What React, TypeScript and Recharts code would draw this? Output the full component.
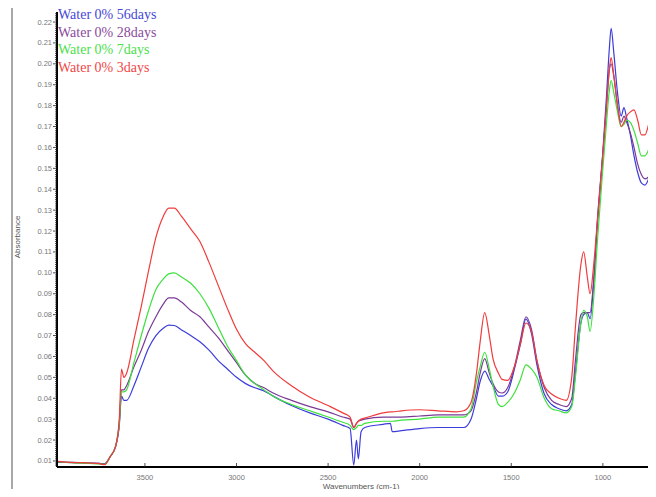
import React from 'react';
import { LineChart, Line, XAxis, YAxis, Legend } from 'recharts';

// wavenumbers (cm-1), high to low
const wavenumbers = [
  3978, 3900, 3800, 3750, 3720,
  3690, 3660, 3640, 3628, 3615, 3600,
  3560, 3520, 3480, 3440, 3400, 3370, 3340, 3300, 3250, 3200, 3150, 3100, 3050, 3000,
  2950, 2900, 2850, 2800, 2700, 2600, 2500,
  2420, 2380, 2360, 2345, 2335, 2320, 2300,
  2200, 2160, 2150, 2100, 2000, 1900, 1800,
  1760, 1720, 1690, 1670, 1645, 1620, 1600,
  1570, 1550, 1520, 1480, 1450, 1420, 1390, 1360,
  1320, 1280, 1240, 1200, 1170, 1150,
  1120, 1105, 1085, 1070, 1050, 1030,
  1000, 980, 965, 955, 940, 920,
  900, 885, 870, 850, 830, 810, 790, 770, 750, 730, 712,
];

const days56 = [
  0.0094, 0.0093, 0.009, 0.0088, 0.0086,
  0.012, 0.017, 0.027, 0.041, 0.039, 0.039,
  0.046, 0.055, 0.064, 0.07, 0.0735, 0.075, 0.0748, 0.0727, 0.07, 0.067, 0.063, 0.058, 0.054, 0.05,
  0.047, 0.045, 0.0435, 0.041, 0.0365, 0.033, 0.03,
  0.027, 0.0255, 0.008, 0.02, 0.011, 0.024, 0.026,
  0.0275, 0.028, 0.024, 0.0245, 0.0255, 0.026, 0.026,
  0.026, 0.03, 0.04, 0.048, 0.053, 0.049, 0.046,
  0.041, 0.041, 0.043, 0.055, 0.066, 0.078, 0.071, 0.056,
  0.042, 0.037, 0.035, 0.034, 0.037, 0.052,
  0.076, 0.08, 0.081, 0.078, 0.095, 0.125,
  0.158, 0.185, 0.207, 0.217, 0.205, 0.186,
  0.175, 0.179, 0.174, 0.166, 0.156, 0.148, 0.143, 0.142, 0.145, 0.15, 0.155,
];

const days28 = [
  0.0095, 0.0092, 0.0089, 0.0088, 0.0085,
  0.012, 0.017, 0.028, 0.044, 0.044, 0.046,
  0.055, 0.063, 0.072, 0.079, 0.085, 0.088, 0.088, 0.086, 0.082, 0.079, 0.074, 0.069, 0.063, 0.057,
  0.051, 0.047, 0.045, 0.0425, 0.039, 0.036, 0.0335,
  0.031, 0.03, 0.026, 0.028, 0.029, 0.0295, 0.03,
  0.031, 0.031, 0.031, 0.031, 0.0315, 0.032, 0.032,
  0.032, 0.034, 0.043, 0.052, 0.059, 0.052, 0.047,
  0.043, 0.0425, 0.045, 0.056, 0.068, 0.079, 0.073, 0.058,
  0.045, 0.039, 0.037, 0.036, 0.04, 0.058,
  0.08, 0.081, 0.081, 0.081, 0.097, 0.123,
  0.157, 0.18, 0.197, 0.2, 0.194, 0.18,
  0.172, 0.175, 0.172, 0.167, 0.16, 0.152, 0.147, 0.145, 0.146, 0.149, 0.152,
];

const days7 = [
  0.0097, 0.0092, 0.0088, 0.0086, 0.0084,
  0.012, 0.017, 0.028, 0.043, 0.043, 0.044,
  0.057, 0.07, 0.082, 0.092, 0.097, 0.0995, 0.1, 0.098, 0.095, 0.09, 0.083, 0.074, 0.065, 0.058,
  0.051, 0.047, 0.044, 0.041, 0.037, 0.034, 0.031,
  0.0285, 0.027, 0.025, 0.026, 0.027, 0.027, 0.028,
  0.029, 0.029, 0.029, 0.0295, 0.03, 0.031, 0.031,
  0.031, 0.035, 0.048, 0.055, 0.062, 0.054, 0.046,
  0.037, 0.036, 0.038, 0.043, 0.049, 0.056, 0.054, 0.05,
  0.04, 0.035, 0.034, 0.033, 0.036, 0.05,
  0.076, 0.082, 0.079, 0.072, 0.088, 0.115,
  0.15, 0.172, 0.187, 0.192, 0.186, 0.177,
  0.17, 0.171, 0.173, 0.172, 0.168, 0.162, 0.156, 0.156, 0.159, 0.164, 0.168,
];

const days3 = [
  0.0098, 0.0093, 0.009, 0.0087, 0.0082,
  0.012, 0.017, 0.03, 0.054, 0.05, 0.052,
  0.068, 0.084, 0.101, 0.117, 0.127, 0.131, 0.131, 0.127, 0.121, 0.115, 0.105, 0.094, 0.083, 0.073,
  0.066, 0.062, 0.058, 0.053, 0.046, 0.0405, 0.0365,
  0.033, 0.031, 0.026, 0.028, 0.029, 0.03, 0.0305,
  0.033, 0.0335, 0.0335, 0.034, 0.0345, 0.034, 0.0335,
  0.034, 0.038, 0.052, 0.067, 0.081, 0.07, 0.059,
  0.052, 0.049, 0.0485, 0.056, 0.066, 0.076, 0.072, 0.058,
  0.046, 0.042, 0.04, 0.039, 0.05, 0.074,
  0.104, 0.11, 0.098, 0.09, 0.104, 0.125,
  0.157, 0.18, 0.197, 0.203, 0.194, 0.18,
  0.17, 0.172, 0.175, 0.177, 0.178, 0.173, 0.166, 0.166, 0.171, 0.177, 0.182,
];

const xTicks = [3500, 3000, 2500, 2000, 1500, 1000];

const series = [
  { key: 'd56', name: 'Water 0% 56days', color: '#3c3cdc', text: '#4646d8' },
  { key: 'd28', name: 'Water 0% 28days', color: '#7a3a96', text: '#8a4a9c' },
  { key: 'd7', name: 'Water 0% 7days', color: '#3ee03e', text: '#4ce04c' },
  { key: 'd3', name: 'Water 0% 3days', color: '#f03c3c', text: '#f04848' },
];

const data = wavenumbers.map((w, i) => ({
  w,
  d56: days56[i],
  d28: days28[i],
  d7: days7[i],
  d3: days3[i],
}));

// minor ticks every 0.001, labels every 0.01
const yTicks: number[] = [];
for (let i = 8; i <= 224; i++) yTicks.push(i / 1000);

const YTick = (props: any) => {
  const { x, y, payload } = props;
  const milli = Math.round(payload.value * 1000);
  const major = milli % 10 === 0;
  return (
    <g>
      <line x1={x - (major ? 4 : 2)} x2={x} y1={y} y2={y} stroke="#222" strokeWidth={0.8} />
      {major && (
        <text x={x - 5} y={y + 2.5} textAnchor="end" fontSize={7.5} fill="#777" fontFamily="Liberation Sans, Arial, sans-serif">
          {(payload.value as number).toFixed(2)}
        </text>
      )}
    </g>
  );
};

const XTick = (props: any) => {
  const { x, y, payload } = props;
  return (
    <g>
      <line x1={x} x2={x} y1={y - 4} y2={y} stroke="#222" strokeWidth={0.8} />
      <text x={x} y={y + 13} textAnchor="middle" fontSize={7.5} fill="#777" fontFamily="Liberation Sans, Arial, sans-serif">
        {payload.value}
      </text>
    </g>
  );
};

const LegendBox = () => (
  <div style={{ fontFamily: '"Liberation Serif", serif', fontSize: 14, lineHeight: '17.7px', textAlign: 'left' }}>
    {series.map((s) => (
      <div key={s.key} style={{ color: s.text, whiteSpace: 'nowrap' }}>
        {s.name}
      </div>
    ))}
  </div>
);

export default function App() {
  return (
    <div style={{ position: 'relative', margin: -8, width: 656, height: 497, overflow: 'hidden', background: '#fff' }}>
      <div
        style={{
          position: 'absolute',
          left: 11,
          top: 4,
          width: 700,
          height: 486,
          border: '2px solid #a8a8a8',
        }}
      />
      <LineChart width={656} height={497} data={data} margin={{ top: 12, right: 0, bottom: 10, left: 17 }}>
        <XAxis
          dataKey="w"
          type="number"
          domain={[710, 3980]}
          reversed
          allowDataOverflow
          ticks={xTicks}
          interval={0}
          tick={<XTick />}
          tickLine={false}
          tickSize={0}
          tickMargin={0}
          height={20}
          axisLine={{ stroke: '#000', strokeWidth: 2 }}
        />
        <YAxis
          type="number"
          domain={[0.0071, 0.2248]}
          allowDataOverflow
          ticks={yTicks}
          interval={0}
          tick={<YTick />}
          tickLine={false}
          tickSize={0}
          tickMargin={0}
          width={40}
          axisLine={{ stroke: '#000', strokeWidth: 2 }}
        />
        <Legend
          verticalAlign="middle"
          align="center"
          layout="horizontal"
          content={<LegendBox />}
          wrapperStyle={{ position: 'absolute', top: 6, left: 58, width: 'auto', height: 'auto' }}
        />
        {series.map((s) => (
          <Line
            key={s.key}
            type="monotone"
            dataKey={s.key}
            name={s.name}
            stroke={s.color}
            strokeWidth={1.2}
            dot={false}
            isAnimationActive={false}
          />
        ))}
      </LineChart>
      <div
        style={{
          position: 'absolute',
          left: 17,
          top: 237,
          transform: 'translate(-50%, -50%) rotate(-90deg)',
          fontFamily: 'Liberation Sans, Arial, sans-serif',
          fontSize: 8,
          color: '#555',
          whiteSpace: 'nowrap',
        }}
      >
        Absorbance
      </div>
      <div
        style={{
          position: 'absolute',
          left: 361,
          top: 486,
          transform: 'translate(-50%, -50%)',
          fontFamily: 'Liberation Sans, Arial, sans-serif',
          fontSize: 8,
          color: '#555',
          whiteSpace: 'nowrap',
        }}
      >
        Wavenumbers (cm-1)
      </div>
    </div>
  );
}
